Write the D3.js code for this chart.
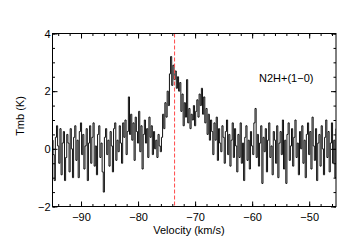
<!DOCTYPE html>
<html>
<head>
<meta charset="utf-8">
<script src="https://cdn.jsdelivr.net/npm/d3@7"></script>
<style>
  body { margin: 0; background: white; }
  svg { display: block; }
  text { font-family: "Liberation Sans", Arial, sans-serif; }
</style>
</head>
<body>
<svg id="chart" width="360" height="249"></svg>
<script>
// spectrum: first channel velocity, channel width (km/s), Tmb (K)
const vStart = -95.0;
const vStep = 0.2;
const tmb = [
  0.3, -0.2, -1.1, 0.4, 0.8, 0.1, -0.5, 0.7, -0.9, 0.2,
  0.6, -1.1, -0.3, 0.5, 0.2, -0.8, 0.7, 0.0, -1.0, 0.4,
  0.8, -0.4, 0.3, -1.0, 0.6, 0.9, -0.2, 0.5, -0.7, 0.1,
  0.7, -1.1, 0.2, 0.8, -0.5, 0.4, 0.9, -0.6, 0.1, -0.9,
  0.5, 0.8, -0.3, 0.2, -0.8, -1.5, 0.4, 0.7, -0.2, 0.3,
  -0.6, 0.6, 0.1, -0.8, 0.7, 0.9, -0.4, 0.3, -0.1, 0.8,
  0.2, -0.5, 0.9, 0.4, 1.0, -0.2, 0.6, 1.8, 0.5, 1.2,
  0.3, 0.9, -0.4, 1.1, 0.6, 0.2, 1.3, -0.1, 0.8, -0.7,
  0.5, 1.0, 0.2, 0.7, -0.3, 1.1, 0.4, 0.8, -0.2, 0.6,
  0.0, 0.3, -0.3, 0.5, 0.1, -0.1, 0.4, 1.2, 0.7, 1.6,
  1.1, 2.0, 1.5, 2.6, 3.2, 2.2, 2.9, 2.4, 2.7, 2.1,
  2.5, 2.0, 2.3, 1.3, 1.9, 0.8, 1.6, 1.1, 2.4, 0.9,
  1.4, 0.7, 1.2, 1.0, 1.5, 0.8, 1.3, 1.7, 1.1, 1.9,
  1.5, 2.1, 1.2, 1.8, 0.9, 1.4, 0.5, 1.2, 0.3, 1.0,
  0.6, -0.2, 0.9, 0.3, 1.1, -0.4, 0.7, 0.2, -0.1, 0.8,
  0.4, -0.5, 0.6, 1.0, -0.2, 0.5, -0.6, 0.3, 0.9, -0.3,
  0.7, 0.1, -0.8, 0.5, -0.3, 0.9, -0.5, 0.2, -1.1, 0.4,
  0.8, -0.4, 0.3, -0.7, 0.6, 0.1, -0.2, 0.9, 1.4, -0.3,
  0.5, -0.6, 0.2, 0.8, -1.2, 0.4, -0.1, 0.7, -0.8, 0.3,
  0.9, -0.3, 0.1, -0.9, 0.6, 0.3, -0.5, 0.8, -1.0, 0.2,
  0.6, -0.2, 1.0, -0.7, 0.3, -1.2, 0.5, 0.9, -0.4, 0.1,
  0.7, -0.6, 0.4, 1.0, -0.3, 0.2, -0.9, 0.6, 0.0, 0.8,
  -0.5, 0.3, -1.0, 0.5, 0.9, -0.2, 0.6, -0.7, 1.1, 0.1,
  -0.4, 0.7, -1.1, 0.2, 0.5, -0.6, 0.8, 0.0, -0.9, 0.4,
  1.0, -0.3, 0.6, -0.8, 0.2, 0.9, -0.5, 0.3, -1.0, 0.7
];
const xMajor = [-90, -80, -70, -60, -50];
const xMinor = d3.range(-94, -45, 2);
const yMajor = [-2, 0, 2, 4];
const yMinor = d3.range(-2, 4.01, 0.5);
const vLine = -73.6;
const lineLabel = "N2H+(1\u22120)";

const svg = d3.select("svg#chart");
const pLeft = 52.5, pRight = 336, pTop = 33.5, pBottom = 206.5;

const x = d3.scaleLinear().domain([-95, -45.3]).range([pLeft, pRight]);
const y = d3.scaleLinear().domain([-2, 4]).range([pBottom, pTop]);

const fmt = d => String(d).replace("-", "\u2212");

// clip for the spectrum
svg.append("clipPath").attr("id", "clip")
  .append("rect").attr("x", pLeft).attr("y", pTop)
  .attr("width", pRight - pLeft).attr("height", pBottom - pTop);

const pts = tmb.map((t, i) => [vStart + i * vStep, t]);
svg.append("path")
  .datum(pts)
  .attr("clip-path", "url(#clip)")
  .attr("fill", "none")
  .attr("stroke", "#111")
  .attr("stroke-width", 1)
  .attr("d", d3.line().x(d => x(d[0])).y(d => y(d[1])).curve(d3.curveStep));

// red dashed line at source velocity
svg.append("line")
  .attr("x1", x(vLine)).attr("x2", x(vLine))
  .attr("y1", pTop).attr("y2", pBottom)
  .attr("stroke", "#ff4a4a").attr("stroke-width", 1)
  .attr("stroke-dasharray", "4,2");

// axes: major + minor ticks inward on all sides
function axisGroup(axis, tx, ty, labels) {
  const g = svg.append("g").attr("transform", `translate(${tx},${ty})`).call(axis);
  g.select(".domain").remove();
  g.selectAll("line").attr("stroke", "black");
  g.selectAll("text").attr("fill", "black").attr("font-size", 11);
  if (!labels) g.selectAll("text").remove();
  return g;
}
axisGroup(d3.axisBottom(x).tickValues(xMajor).tickSize(-5).tickPadding(7).tickFormat(fmt), 0, pBottom, true);
axisGroup(d3.axisBottom(x).tickValues(xMinor).tickSize(-2.5), 0, pBottom, false);
axisGroup(d3.axisTop(x).tickValues(xMajor).tickSize(-5), 0, pTop, false);
axisGroup(d3.axisTop(x).tickValues(xMinor).tickSize(-2.5), 0, pTop, false);
axisGroup(d3.axisLeft(y).tickValues(yMajor).tickSize(-5).tickPadding(2).tickFormat(fmt), pLeft, 0, true);
axisGroup(d3.axisLeft(y).tickValues(yMinor).tickSize(-2.5), pLeft, 0, false);
axisGroup(d3.axisRight(y).tickValues(yMajor).tickSize(-5), pRight, 0, false);
axisGroup(d3.axisRight(y).tickValues(yMinor).tickSize(-2.5), pRight, 0, false);

// frame
svg.append("rect")
  .attr("x", pLeft).attr("y", pTop)
  .attr("width", pRight - pLeft).attr("height", pBottom - pTop)
  .attr("fill", "none").attr("stroke", "black").attr("stroke-width", 1);

// titles
svg.append("text")
  .attr("x", 189).attr("y", 234)
  .attr("text-anchor", "middle").attr("font-size", 11)
  .text("Velocity (km/s)");

svg.append("text")
  .attr("transform", "translate(24,116) rotate(-90)")
  .attr("text-anchor", "middle").attr("font-size", 11)
  .text("Tmb (K)");

svg.append("text")
  .attr("x", 259).attr("y", 82)
  .attr("font-size", 11)
  .text(lineLabel);
</script>
</body>
</html>
